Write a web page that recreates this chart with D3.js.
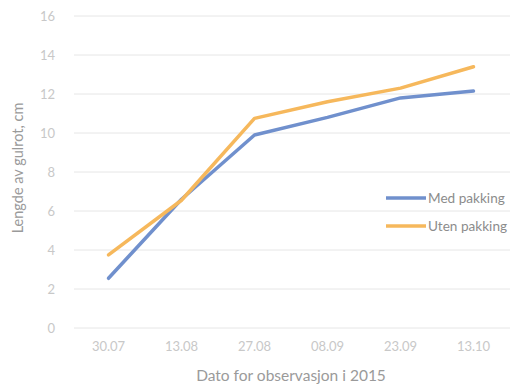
<!DOCTYPE html>
<html>
<head>
<meta charset="utf-8">
<script src="https://cdn.jsdelivr.net/npm/d3@7"></script>
<style>
  body { margin: 0; background: #fff; }
  svg { display: block; font-family: Lato, "Open Sans", sans-serif; }
</style>
</head>
<body>
<svg id="chart" width="510" height="387"></svg>
<script>
const dates = ['30.07', '13.08', '27.08', '08.09', '23.09', '13.10'];
const medPakking = [2.55, 6.6, 9.9, 10.8, 11.8, 12.15];
const utenPakking = [3.75, 6.55, 10.75, 11.6, 12.3, 13.4];
const yTicks = [0, 2, 4, 6, 8, 10, 12, 14, 16];

const series = [
  { name: 'Med pakking', values: medPakking, color: '#7090cd' },
  { name: 'Uten pakking', values: utenPakking, color: '#f6b85c' }
];

const svg = d3.select('#chart');

const x = d3
  .scaleBand()
  .domain(dates)
  .range([72, 510]);

const y = d3
  .scaleLinear()
  .domain([0, 16])
  .range([328, 16]);

// gridlines
svg.append('g')
  .selectAll('line')
  .data(yTicks)
  .join('line')
  .attr('x1', 74)
  .attr('x2', 510)
  .attr('y1', d => y(d))
  .attr('y2', d => y(d))
  .attr('stroke', '#e6e6e6')
  .attr('stroke-width', 1);

// y tick labels
svg.append('g')
  .selectAll('text')
  .data(yTicks)
  .join('text')
  .attr('x', 55)
  .attr('y', d => y(d))
  .attr('dy', '0.35em')
  .attr('text-anchor', 'end')
  .attr('fill', '#c8c8c8')
  .attr('font-size', 13)
  .text(d => d);

// x tick labels
svg.append('g')
  .selectAll('text')
  .data(dates)
  .join('text')
  .attr('x', d => x(d) + x.bandwidth() / 2)
  .attr('y', 346)
  .attr('dy', '0.35em')
  .attr('text-anchor', 'middle')
  .attr('fill', '#c8c8c8')
  .attr('font-size', 13)
  .text(d => d);

// axis titles
svg.append('text')
  .attr('x', 291)
  .attr('y', 376)
  .attr('dy', '0.35em')
  .attr('text-anchor', 'middle')
  .attr('fill', '#9a9a9a')
  .attr('font-size', 15.5)
  .text('Dato for observasjon i 2015');

svg.append('text')
  .attr('transform', 'translate(18,168) rotate(-90)')
  .attr('dy', '0.35em')
  .attr('text-anchor', 'middle')
  .attr('fill', '#9a9a9a')
  .attr('font-size', 14.5)
  .text('Lengde av gulrot, cm');

// lines
const line = d3.line()
  .x((_, i) => x(dates[i]) + x.bandwidth() / 2)
  .y(d => y(d));

svg.append('g')
  .selectAll('path')
  .data(series)
  .join('path')
  .attr('d', d => line(d.values))
  .attr('fill', 'none')
  .attr('stroke', d => d.color)
  .attr('stroke-width', 3.5)
  .attr('stroke-linejoin', 'round')
  .attr('stroke-linecap', 'round');

// legend
const legend = svg.append('g')
  .selectAll('g')
  .data(series)
  .join('g')
  .attr('transform', (_, i) => `translate(386,${198 + i * 28})`);

legend.append('line')
  .attr('x1', 0)
  .attr('x2', 40)
  .attr('stroke', d => d.color)
  .attr('stroke-width', 3.5);

legend.append('text')
  .attr('x', 42)
  .attr('dy', '0.35em')
  .attr('fill', '#8c8c8c')
  .attr('font-size', 13.6)
  .text(d => d.name);
</script>
</body>
</html>
